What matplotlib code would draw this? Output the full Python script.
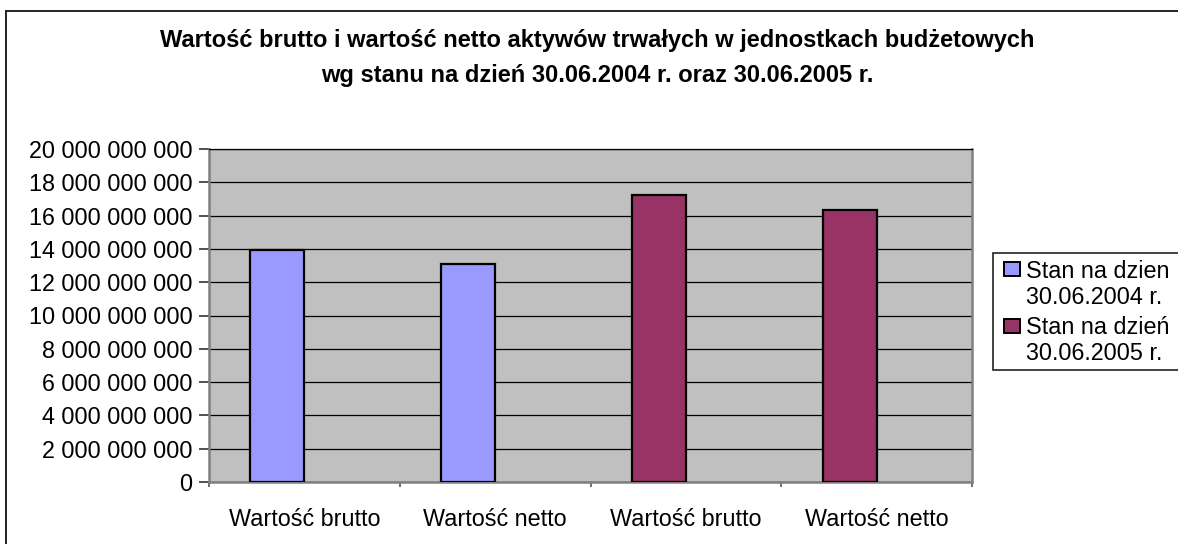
import matplotlib
matplotlib.use("Agg")
import matplotlib.pyplot as plt
from matplotlib.patches import Rectangle
from matplotlib.ticker import FuncFormatter, MultipleLocator

plt.rcParams['font.family'] = ['Liberation Sans', 'DejaVu Sans']

# data
categories = ["Wartość brutto", "Wartość netto", "Wartość brutto", "Wartość netto"]
values = [13.93e9, 13.1e9, 17.24e9, 16.34e9]
series_idx = [0, 0, 1, 1]
series_labels = ["Stan na dzien\n30.06.2004 r.", "Stan na dzień\n30.06.2005 r."]
series_colors = ["#9999FF", "#993366"]

W, H = 1178, 544
fig = plt.figure(figsize=(W / 100, H / 100), dpi=100)

# outer chart frame (right/bottom edges run off the picture)
fig.patches.append(Rectangle((6 / W, -0.1), 1.2, 1 - 11 / H + 0.1, transform=fig.transFigure,
                             fill=False, edgecolor="#222222", linewidth=1.4, clip_on=False))

ax = fig.add_axes([209 / W, 1 - 482 / H, (972 - 209) / W, (482 - 149) / H])
ax.set_facecolor("#C0C0C0")

bw = 0.283
xs = range(len(categories))
for x, v, s in zip(xs, values, series_idx):
    ax.bar(x - bw / 2, v, width=bw, color=series_colors[s], edgecolor="black",
           linewidth=1.6, zorder=3)

ax.set_xlim(-0.5, len(categories) - 0.5)
ax.set_ylim(0, 20e9)
ax.yaxis.set_major_locator(MultipleLocator(2e9))
ax.yaxis.set_major_formatter(FuncFormatter(lambda v, p: f"{int(round(v)):,}".replace(",", " ")))
ax.grid(axis="y", color="black", linewidth=0.9, zorder=1)
ax.set_axisbelow(True)

fs = 16.8
ax.set_xticks(list(xs))
ax.set_xticklabels(categories)
ax.set_xticks([i - 0.5 for i in range(len(categories) + 1)], minor=True)
ax.tick_params(axis="x", which="major", length=0, pad=19, labelsize=fs)
ax.tick_params(axis="x", which="minor", length=3.6, width=1.2, color="#555555", direction="out")
ax.tick_params(axis="y", length=7, width=1.2, color="#333333", pad=5, labelsize=fs)

for side in ["left", "bottom", "right"]:
    ax.spines[side].set_color("#808080")
    ax.spines[side].set_linewidth(1.8)
ax.spines["top"].set_color("black")
ax.spines["top"].set_linewidth(0.9)

fig.text(597 / W, 1 - 47 / H, "Wartość brutto i wartość netto aktywów trwałych w jednostkach budżetowych",
         ha="center", va="baseline", fontsize=17, fontweight="bold")
fig.text(597 / W, 1 - 82 / H, "wg stanu na dzień 30.06.2004 r. oraz 30.06.2005 r.",
         ha="center", va="baseline", fontsize=17, fontweight="bold")

# legend box
fig.patches.append(Rectangle((993 / W, 1 - 370 / H), 0.3, (370 - 253) / H, transform=fig.transFigure,
                             facecolor="white", edgecolor="#222222", linewidth=1.2, clip_on=False))
for i, (lab, col) in enumerate(zip(series_labels, series_colors)):
    y0 = 269 + i * 57
    fig.patches.append(Rectangle((1004 / W, 1 - (y0 + 7) / H), 16 / W, 14 / H, transform=fig.transFigure,
                                 facecolor=col, edgecolor="black", linewidth=1.4))
    line1, line2 = lab.split("\n")
    fig.text(1026 / W, 1 - (y0 + 2) / H, line1, ha="left", va="center", fontsize=fs)
    fig.text(1026 / W, 1 - (y0 + 28) / H, line2, ha="left", va="center", fontsize=fs)

fig.savefig("out.png", dpi=100)
